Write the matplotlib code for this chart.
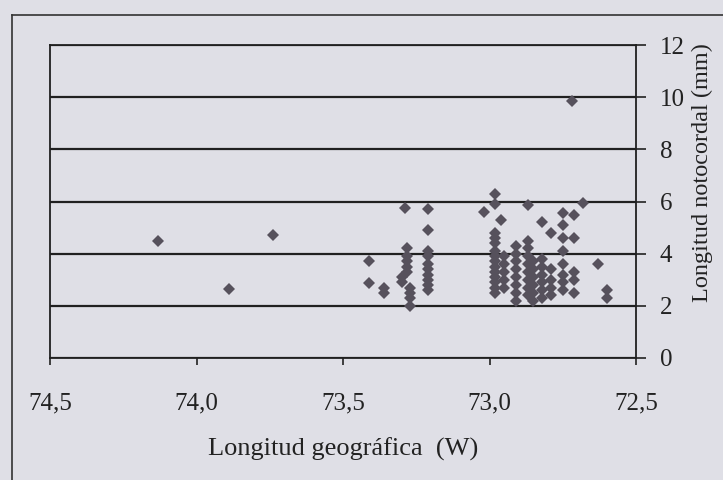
import matplotlib
matplotlib.use("Agg")
import matplotlib.pyplot as plt
from matplotlib.lines import Line2D

# ---- data (longitude W, notochord length mm) ----
lon_groups = [74.13, 73.89, 73.74, 73.41, 73.36, 73.29, 73.28, 73.30, 73.27, 73.21,
              73.02, 72.98, 72.96, 72.95, 72.91, 72.87, 72.85, 72.82, 72.79,
              72.75, 72.71, 72.72, 72.68, 72.63, 72.60]
len_groups = [
    [4.5],
    [2.65],
    [4.7],
    [3.7, 2.87],
    [2.68, 2.5],
    [5.75],
    [4.2, 3.9, 3.7, 3.5, 3.3],
    [3.1, 2.9],
    [2.7, 2.5, 2.3, 2.0],
    [5.7, 4.9, 4.1, 3.9, 3.6, 3.4, 3.2, 3.0, 2.8, 2.6],
    [5.6],
    [6.3, 5.9, 4.8, 4.6, 4.4, 4.1, 3.9, 3.7, 3.5, 3.3, 3.1, 2.9, 2.7, 2.5],
    [5.3],
    [3.9, 3.6, 3.3, 3.0, 2.7],
    [4.3, 4.0, 3.7, 3.4, 3.1, 2.8, 2.5, 2.2],
    [5.85, 4.5, 4.2, 3.9, 3.6, 3.3, 3.0, 2.7, 2.4],
    [3.7, 3.4, 3.1, 2.8, 2.5, 2.2],
    [5.2, 3.8, 3.5, 3.2, 2.9, 2.6, 2.3],
    [4.8, 3.4, 3.0, 2.7, 2.4],
    [5.55, 5.1, 4.6, 4.1, 3.6, 3.2, 2.9, 2.6],
    [5.5, 4.6, 3.3, 3.0, 2.5],
    [9.85],
    [5.95],
    [3.6],
    [2.6, 2.3],
]
x_ticks = [74.5, 74.0, 73.5, 73.0, 72.5]
x_ticklabels = ["74,5", "74,0", "73,5", "73,0", "72,5"]
y_ticks = [0, 2, 4, 6, 8, 10, 12]
x_label = "Longitud geográfica  (W)"
y_label = "Longitud notocordal (mm)"

xs = [lo for lo, vals in zip(lon_groups, len_groups) for _ in vals]
ys = [v for vals in len_groups for v in vals]

bg = "#dfdfe6"
plt.rcParams["font.family"] = ["Liberation Serif", "DejaVu Serif"]

fig = plt.figure(figsize=(7.23, 4.8), dpi=100, facecolor=bg)
ax = fig.add_axes([50/723, 1-358/480, (636-50)/723, (358-45)/480])
ax.set_facecolor(bg)

ax.plot(xs, ys, linestyle="none", marker="D", markersize=6.5,
        color="#56515c", markeredgewidth=0)

ax.set_xlim(74.5, 72.5)
ax.set_ylim(0, 12)
ax.set_xticks(x_ticks)
ax.set_xticklabels(x_ticklabels)
ax.set_yticks(y_ticks)
ax.yaxis.tick_right()
ax.yaxis.set_label_position("right")
ax.tick_params(axis="y", direction="out", length=7, width=1.2, pad=10,
               labelsize=18, colors="#222222")
ax.tick_params(axis="x", direction="out", length=5, width=1.2, pad=20,
               labelsize=18, colors="#222222")
ax.grid(axis="y", color="#202020", linewidth=1.6)
ax.set_axisbelow(True)
for side in ["left", "right", "bottom", "top"]:
    ax.spines[side].set_color("#202020")
    ax.spines[side].set_linewidth(1.3)

ax.set_xlabel(x_label, fontsize=19, color="#222222")
ax.xaxis.set_label_coords(0.5, -0.255)
ax.set_ylabel(y_label, fontsize=17.5, color="#222222")
ax.yaxis.set_label_coords(1.095, 0.594)

# outer frame
fig.add_artist(Line2D([12/723, 1.0], [1-15/480, 1-15/480], transform=fig.transFigure,
                      color="#333333", linewidth=1.2))
fig.add_artist(Line2D([12/723, 12/723], [0.0, 1-15/480], transform=fig.transFigure,
                      color="#333333", linewidth=1.2))

fig.savefig("out.png", dpi=100, facecolor=bg)
